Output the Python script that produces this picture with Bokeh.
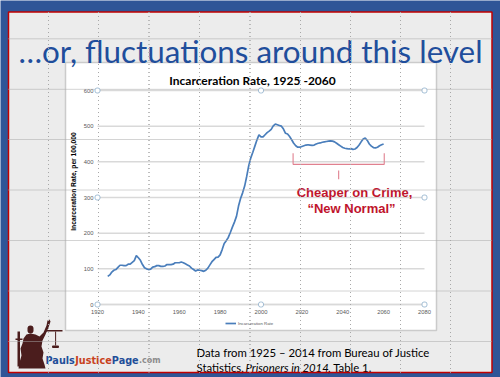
from math import pi
from bokeh.plotting import figure
from bokeh.models import (Range1d, FixedTicker, BoxAnnotation, PolyAnnotation, Label,
                          LinearAxis, Legend, LegendItem)
from bokeh.embed import file_html
from bokeh.resources import INLINE

# ---------------- data ----------------
hist_years = list(range(1925, 2015))
hist_rate = [79, 83, 91, 96, 98, 104, 110, 110, 109, 109,
             113, 113, 118, 123, 137, 131, 124, 112, 103, 100,
             98, 99, 105, 106, 109, 109, 107, 107, 108, 112,
             112, 112, 113, 117, 117, 117, 119, 117, 114, 111,
             108, 102, 98, 94, 97, 96, 95, 93, 96, 102,
             111, 120, 126, 132, 133, 139, 154, 171, 179, 188,
             202, 217, 231, 247, 276, 297, 313, 332, 359, 389,
             411, 427, 444, 461, 476, 470, 470, 476, 482, 486,
             491, 501, 506, 504, 502, 500, 492, 480, 478, 471]
proj_years = list(range(2015, 2061))
proj_rate = [462, 452, 445, 441, 441, 443, 445, 447, 448, 447,
             446, 447, 450, 452, 453, 455, 456, 457, 458, 459,
             458, 456, 452, 448, 444, 440, 438, 437, 436, 437,
             435, 436, 440, 447, 456, 464, 467, 460, 450, 444,
             440, 439, 441, 445, 448, 450]
years = hist_years + proj_years
rates = hist_rate + proj_rate

x_ticks = [1920, 1940, 1960, 1980, 2000, 2020, 2040, 2060, 2080]
y_ticks = [0, 100, 200, 300, 400, 500, 600]

bracket_years = [2015.7, 2060.3]
bracket_levels = [424, 393]
bracket_tick = [376, 351]

slide_title = "\u2026or, fluctuations around this level"
chart_title = "Incarceration Rate, 1925 -2060"
y_title = "Incarceration Rate, per 100,000"
series_name = "Incarceration Rate"
note_1 = "Cheaper on Crime,"
note_2 = "\u201cNew Normal\u201d"

# ---------------- layout constants (pixels) ----------------
W, H = 500, 377
FL, FT, FR, FB = 97, 90, 424, 304          # plot area of the chart
x0, x1 = x_ticks[0], x_ticks[-1]
y0, y1 = y_ticks[0], y_ticks[-1]
sx = (FR - FL) / (x1 - x0)
sy = (FB - FT) / (y1 - y0)
xr = Range1d(x0 - FL / sx, x1 + (W - FR) / sx)
yr = Range1d(y0 - (H - FB) / sy, y1 + FT / sy)

BLUE = "#2f5597"
LINE = "#4a7ebb"
RED = "#c0142c"
GRAY = "#ececec"

p = figure(width=W, height=H, x_range=xr, y_range=yr,
           output_backend="svg", toolbar_location=None,
           x_axis_type=None, y_axis_type=None,
           min_border=0, min_border_left=0, min_border_right=0,
           min_border_top=0, min_border_bottom=0,
           border_fill_color=BLUE, background_fill_color=BLUE, outline_line_color=None)


def box(l, t, r, b, fill=None, line=None, lw=1.0, dash="solid", level="image", radius=0):
    kw = dict(left=l, right=r, top=t, bottom=b,
              left_units="canvas", right_units="canvas", top_units="canvas", bottom_units="canvas",
              fill_color=fill, fill_alpha=1.0 if fill else 0.0,
              line_color=line, line_alpha=1.0 if line else 0.0, line_width=lw, line_dash=dash,
              level=level)
    if radius:
        kw["border_radius"] = int(radius)
    p.add_layout(BoxAnnotation(**kw))


def lab(text, x, y, size, color, font="Lato", style="normal", align="left",
        baseline="alphabetic", angle=0.0, level="annotation"):
    p.add_layout(Label(x=x, y=y, x_units="canvas", y_units="canvas", text=text,
                       text_font=font, text_font_size=f"{size}px", text_font_style=style,
                       text_color=color, text_align=align, text_baseline=baseline,
                       angle=angle, level=level))


# slide and chart box
SL, ST, SR, SB = 8, 11.5, 491.5, 372
WL, WT, WR, WB = 65, 62, 436, 330
box(SL, ST, SR, SB, fill=GRAY)
box(WL, WT, WR, WB, fill="white", line="#cbcbcb", lw=1.5)

# gridlines (from the y ticks) and data line
p.segment(x0=[x0] * len(y_ticks), x1=[x1] * len(y_ticks), y0=y_ticks, y1=y_ticks,
          line_color="#d9d9d9", line_width=1.5)
line = p.line(years, rates, line_color=LINE, line_width=1.7)

# axes
xaxis = LinearAxis(fixed_location=y0, bounds=(x0, x1), ticker=FixedTicker(ticks=x_ticks))
yaxis = LinearAxis(fixed_location=x0, bounds=(y0, y1), ticker=FixedTicker(ticks=y_ticks))
for ax in (xaxis, yaxis):
    ax.major_tick_line_color = None
    ax.minor_tick_line_color = None
    ax.major_tick_out = 0
    ax.major_tick_in = 0
    ax.major_label_text_font = "Liberation Sans"
    ax.major_label_text_font_size = "5.8px"
    ax.major_label_text_color = "#595959"
xaxis.axis_line_color = "#d9d9d9"
xaxis.axis_line_width = 1.5
yaxis.axis_line_color = None
xaxis.major_label_standoff = 5
yaxis.major_label_standoff = 4
p.add_layout(xaxis, "below")
p.add_layout(yaxis, "left")

# legend
lg = Legend(items=[LegendItem(label=series_name, renderers=[line])],
            location=(225, 51), padding=0, margin=0, spacing=0,
            glyph_width=11, glyph_height=6, label_height=6, label_standoff=2,
            label_text_font="Liberation Sans", label_text_font_size="4.3px",
            label_text_color="#595959", background_fill_alpha=0, border_line_color=None)
p.add_layout(lg)

# bracket annotation
bx0, bx1 = bracket_years
btop, bbot = bracket_levels
bmid = (bx0 + bx1) / 2
p.multi_line(xs=[[bx0, bx0, bx1, bx1], [bmid, bmid]],
             ys=[[btop, bbot, bbot, btop], [bracket_tick[0], bracket_tick[1]]],
             line_color="#e0808f", line_width=1.1)

# texts
lab(slide_title, 250, 50, 31.4, "#1f4e9c", align="center")
lab(chart_title, 252, 79.5, 12, "black", style="bold", align="center")
lab(y_title, 73, 181, 6.7, "black", font="Liberation Sans", style="bold",
    align="center", baseline="middle", angle=pi / 2)
lab(note_1, 354, 191.7, 13, RED, font="Liberation Sans", style="bold", align="center")
lab(note_2, 351, 208, 13, RED, font="Liberation Sans", style="bold", align="center")
CAP = 11.35
lab("Data from 1925 \u2013 2014 from Bureau of Justice", 196, 351.7, CAP, "black")
lab("Statistics,", 196, 366.7, CAP, "black")
lab("Prisoners in 2014", 245, 366.7, CAP, "black", style="italic")
lab(", Table 1.", 327.5, 366.7, CAP, "black")
LOGO = "DejaVu Sans"
lab("Pauls", 45, 360, 9.7, "#1f4e99", font=LOGO, style="bold")
lab("Justice", 74.7, 360, 9.7, "#c8421e", font=LOGO, style="bold")
lab("Page", 111.3, 360, 9.7, "#1f4e99", font=LOGO, style="bold")
lab(".com", 138.5, 360, 8, "#8c8c8c", font=LOGO, style="bold")

# logo statue silhouette
STAT = "#4b1d1d"
body = [(23, 338), (26, 334), (30, 333), (35, 334), (39, 336), (43, 332), (46, 325), (47, 320),
        (49, 319), (50, 321), (48, 327), (45, 334), (42, 340), (41, 346), (43, 352), (42, 358),
        (44, 364), (45, 368), (18, 368), (19, 362), (21, 355), (20, 348), (22, 343)]
p.add_layout(PolyAnnotation(xs=[a for a, _ in body], ys=[b for _, b in body],
                            xs_units="canvas", ys_units="canvas", fill_color=STAT, fill_alpha=1,
                            line_color=None, level="annotation"))
box(27, 325, 33, 333, fill=STAT, level="annotation", radius=3)
box(17, 331, 19.5, 366, fill=STAT, level="annotation")
box(15, 338, 22, 339.5, fill=STAT, level="annotation")
box(45, 329.5, 62, 331, fill=STAT, level="annotation")
box(54.6, 331, 55.6, 345, fill=STAT, level="annotation")
box(51.5, 345, 58.5, 347.5, fill=STAT, level="annotation", radius=1)

# slide border line, PowerPoint guides (dotted) and selection handles
box(SL, ST, SR, SB, line="#c00000", lw=1.5, level="overlay")
for gy in [38.3, 88.8, 139, 189.5, 240, 290.5, 341]:
    box(SL, gy, SR, gy, line="#a8a8a8", lw=1, dash="1 3", level="overlay")
for gx in [48, 98, 148.5, 199, 249.5, 300, 350, 400, 450]:
    box(gx, ST, gx, SB, line="#a8a8a8", lw=1, dash="1 3", level="overlay")
for hx in [FL, (FL + FR) / 2, FR]:
    for hy in [FT, (FT + FB) / 2, FB]:
        if hx == (FL + FR) / 2 and hy == (FT + FB) / 2:
            continue
        box(hx - 2.5, hy - 2.5, hx + 2.5, hy + 2.5, fill="white", line="#8fb0cc", lw=0.8,
            level="overlay", radius=2)

open("out.html", "w").write(file_html(p, INLINE))
